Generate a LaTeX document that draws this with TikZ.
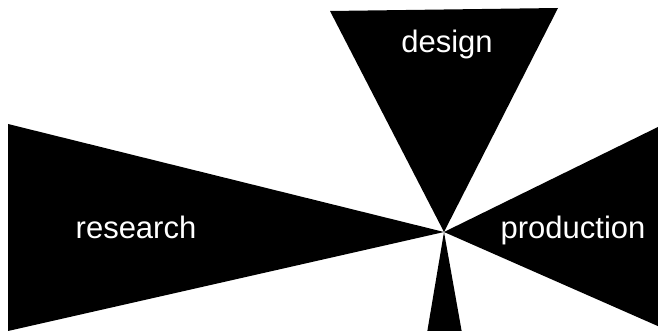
\documentclass[tikz,border=0pt]{standalone}
\usepackage{fontspec}
\setmainfont{Liberation Sans}
\usetikzlibrary{positioning}

\begin{document}
\begin{tikzpicture}[
    x=1pt, y=-1pt,
    wedge/.style = {fill=black, draw=none},
    word/.style = {text=white, font=\fontsize{31}{36}\selectfont, inner sep=0pt, anchor=base}
]

% Frame
\useasboundingbox (0,0) rectangle (658,331);
\clip (0,0) rectangle (658,331);

% Meeting point
\coordinate (hub) at (444,232);

% Wedges
\fill [wedge] (330,11) -- (558,8) -- (hub) -- cycle;
\fill [wedge] (8,124) -- (hub) -- (8,331) -- cycle;
\fill [wedge] (660,126) -- (hub) -- (660,327) -- cycle;
\fill [wedge] (427,333) -- (hub) -- (462,333) -- cycle;

% Labels
\node (design) [word, at={(447,53)}] {design};
\node (research) [word, at={(136,238)}] {research};
\node (production) [word, at={(573,238)}] {production};

\end{tikzpicture}
\end{document}
